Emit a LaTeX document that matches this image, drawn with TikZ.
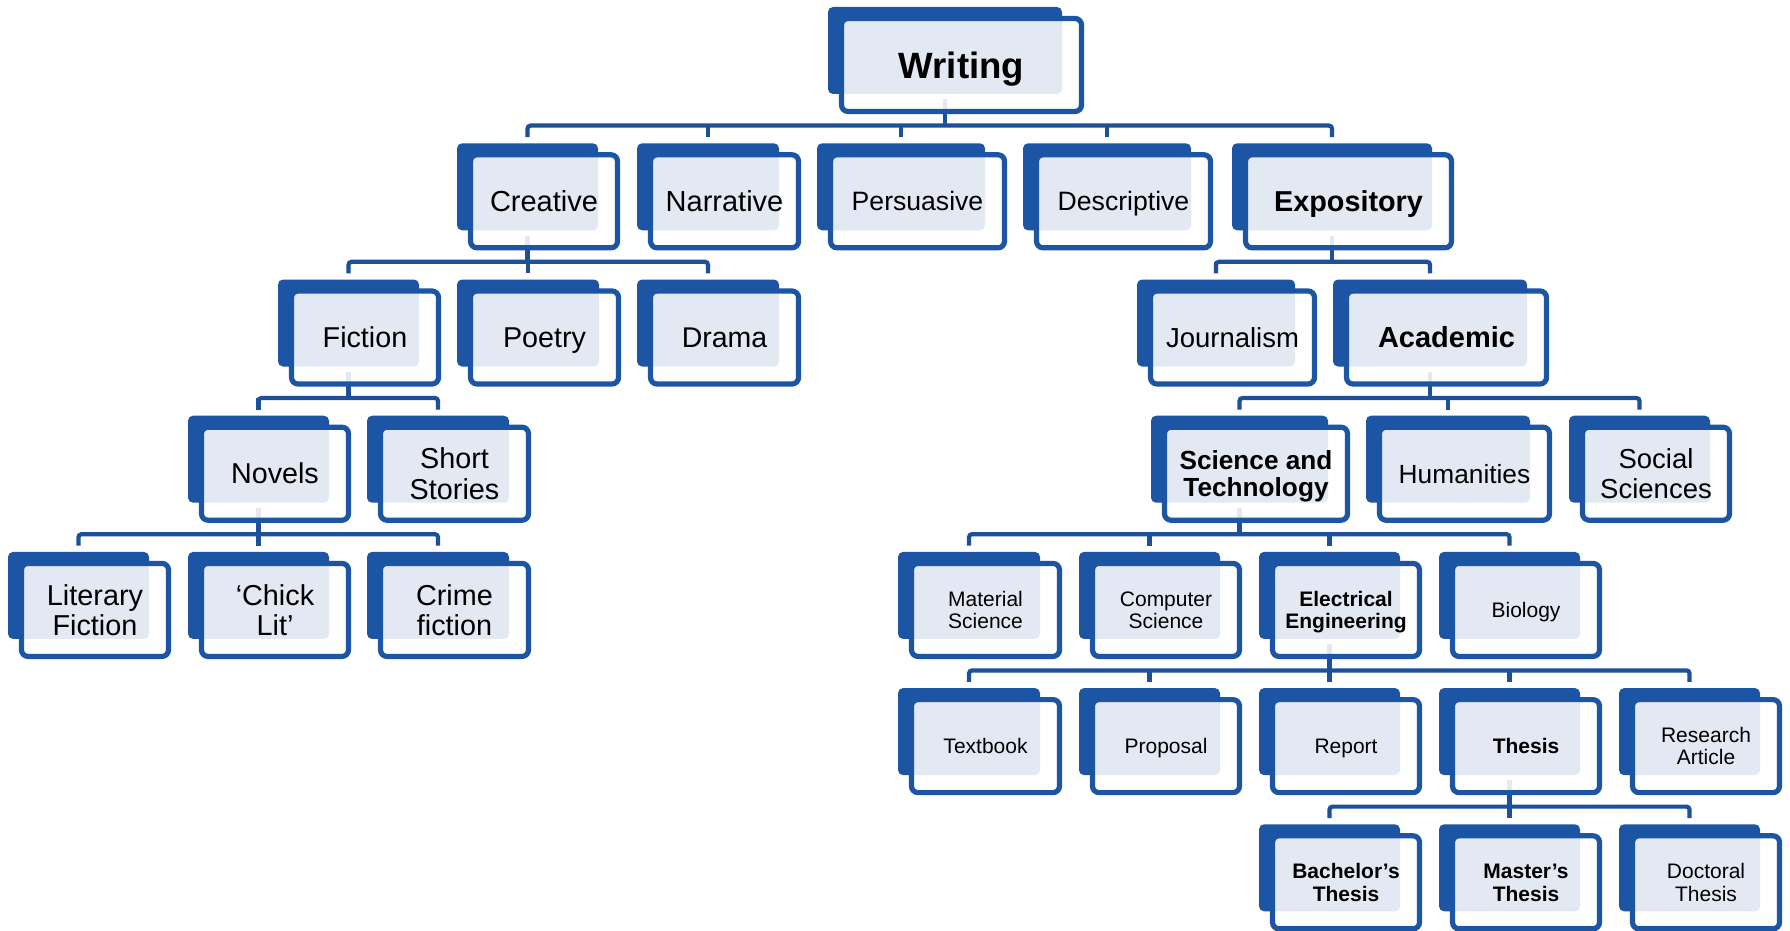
\documentclass[tikz,border=0pt]{standalone}
\usepackage{fontspec}
\setmainfont{Liberation Sans}
\pgfdeclarelayer{background}
\pgfsetlayers{background,main}
\definecolor{wblue}{RGB}{29,85,165}
\definecolor{wline}{RGB}{28,80,155}
\tikzset{
  backbox/.style={fill=wblue, rounded corners=5pt, inner sep=0pt, minimum height=87pt},
  frontbox/.style={draw=wblue, line width=5.2pt, fill=white, fill opacity=0.875,
    rounded corners=6.5pt, inner sep=0pt, minimum height=93pt},
  labeltext/.style={anchor=base, inner sep=0pt, text=black},
  conn/.style={draw=wline, line width=4.2pt},
}
% #1 name, #2 left x, #3 right x, #4 top y, #5 font size, #6 lines, #7 font switch, #8 text
\newcommand\wnode[8]{%
  \node[backbox, minimum width={(#3-#2)*1pt}] (#1) at ({(#2+#3)/2}, {-(#4+43.5)}) {};
  \node[frontbox, minimum width={(#3-#2+6)*1pt}] (#1-f) at ([xshift=16.5pt, yshift=-14.5pt]#1.center) {};
  \pgfmathsetmacro\wbs{#5+1.6}%
  \node[labeltext] (#1-t) at ([yshift={((#6-1)*(#5+1.6)-0.716*#5)/2*1pt}]#1-f.center)
    {\fontsize{#5}{\wbs}\selectfont#7\begin{tabular}[t]{@{}c@{}}#8\end{tabular}};
}
% #1 parent, #2 leftmost child, #3 rightmost child, #4 other children
\newcommand\wfamily[4]{%
  \coordinate (#1-bar) at ([yshift=17.5pt]#2.north);
  \draw[conn] ([yshift=-5pt]#1.south) -- (#1.south |- #1-bar);
  \draw[conn, rounded corners=3pt] ([yshift=6pt]#2.north) -- (#1-bar)
    -- (#3.north |- #1-bar) -- ([yshift=6pt]#3.north);
  \foreach \wm in {#4} {\draw[conn] ([yshift=6pt]\wm.north) -- (\wm.north |- #1-bar);}
}
\begin{document}
\begin{tikzpicture}[x=1pt,y=1pt]
\useasboundingbox (0,0) rectangle (1790,-931);

% level 1
\wnode{wri}{828}{1062}{7}{36.6}{1}{\bfseries}{Writing}
% level 2
\wnode{cre}{457}{598}{143.3}{29}{1}{}{Creative}
\wnode{nar}{637}{779}{143.3}{29}{1}{}{Narrative}
\wnode{per}{817}{985}{143.3}{26.6}{1}{}{Persuasive}
\wnode{des}{1023}{1191}{143.3}{26.6}{1}{}{Descriptive}
\wnode{exp}{1232}{1432}{143.3}{28.8}{1}{\bfseries}{Expository}
% level 3
\wnode{fic}{278}{419}{279.5}{28.7}{1}{}{Fiction}
\wnode{poe}{457}{599}{279.5}{28.7}{1}{}{Poetry}
\wnode{dra}{637}{779}{279.5}{28.5}{1}{}{Drama}
\wnode{jou}{1137}{1295}{279.5}{27.5}{1}{}{Journalism}
\wnode{aca}{1333}{1527}{279.5}{29}{1}{\bfseries}{Academic}
% level 4
\wnode{nov}{188}{329}{415.7}{28.7}{1}{}{Novels}
\wnode{sho}{367}{509}{415.7}{28.8}{2}{}{Short\\Stories}
\wnode{sci}{1151}{1328}{415.7}{26.2}{2}{\bfseries}{Science and\\Technology}
\wnode{hum}{1366}{1530}{415.7}{26.3}{1}{}{Humanities}
\wnode{soc}{1569}{1710}{415.7}{27.5}{2}{}{Social\\Sciences}
% level 5
\wnode{lit}{8}{149}{551.9}{28.8}{2}{}{Literary\\Fiction}
\wnode{chi}{188}{329}{551.9}{28.8}{2}{}{‘Chick\\Lit’}
\wnode{cri}{367}{509}{551.9}{28.8}{2}{}{Crime\\fiction}
\wnode{mat}{898}{1040}{551.9}{21}{2}{}{Material\\Science}
\wnode{com}{1079}{1220}{551.9}{21}{2}{}{Computer\\Science}
\wnode{ele}{1259}{1400}{551.9}{21}{2}{\bfseries}{Electrical\\Engineering}
\wnode{bio}{1439}{1580}{551.9}{21}{1}{}{Biology}
% level 6
\wnode{tex}{898}{1040}{688.1}{21}{1}{}{Textbook}
\wnode{pro}{1079}{1220}{688.1}{21}{1}{}{Proposal}
\wnode{rep}{1259}{1400}{688.1}{21}{1}{}{Report}
\wnode{the}{1439}{1580}{688.1}{21}{1}{\bfseries}{Thesis}
\wnode{res}{1619}{1760}{688.1}{21}{2}{}{Research\\Article}
% level 7
\wnode{bac}{1259}{1400}{824.3}{21}{2}{\bfseries}{Bachelor’s\\Thesis}
\wnode{mas}{1439}{1580}{824.3}{21}{2}{\bfseries}{Master’s\\Thesis}
\wnode{doc}{1619}{1760}{824.3}{21}{2}{}{Doctoral\\Thesis}

% connectors sit underneath the boxes
\begin{pgfonlayer}{background}
\fill[white] (0,0) rectangle (1790,-931);
\wfamily{wri}{cre}{exp}{nar,per,des}
\wfamily{cre}{fic}{dra}{poe}
\wfamily{exp}{jou}{aca}{jou}
\wfamily{fic}{nov}{sho}{nov}
\wfamily{nov}{lit}{cri}{chi}
\wfamily{aca}{sci}{soc}{hum}
\wfamily{sci}{mat}{bio}{com,ele}
\wfamily{ele}{tex}{res}{pro,rep,the}
\wfamily{the}{bac}{doc}{mas}
\end{pgfonlayer}
\end{tikzpicture}
\end{document}
